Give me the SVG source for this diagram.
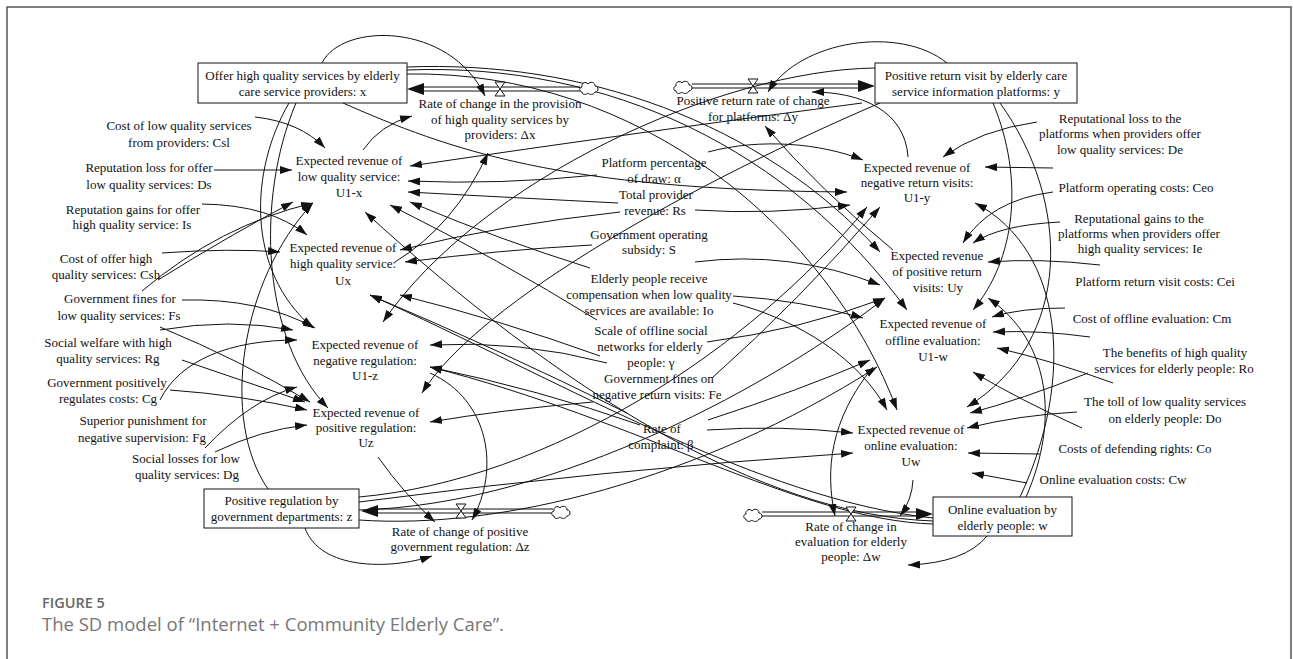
<svg xmlns="http://www.w3.org/2000/svg" width="1293" height="659" viewBox="0 0 1293 659">
<defs>
<marker id="a" viewBox="0 0 12 8" refX="12" refY="4" markerWidth="12" markerHeight="8" markerUnits="userSpaceOnUse" orient="auto"><path d="M0,0L12,4L0,8z" fill="#111"/></marker>
<path id="cloud" d="M-7,4 C-10,4 -10,-1 -7,-1 C-8,-5 -3,-7 -1,-4 C1,-7 6,-6 6,-2 C10,-2 10,4 6,4 C5,7 0,7 -1,5 C-3,7 -7,7 -7,4 Z"/>
<path id="valve" d="M-5,-7 H5 L-5,7 H5 Z"/>
</defs>
<style>
.t{font-family:"Liberation Serif","Times New Roman",serif;font-size:13px;fill:#111;text-anchor:middle}
.l{fill:none;stroke:#111;stroke-width:1;marker-end:url(#a)}
.box{fill:#fff;stroke:#111;stroke-width:1}
.p{fill:none;stroke:#111;stroke-width:1}
.cl{fill:#fff;stroke:#111;stroke-width:1}
.cap1{font-family:"Open Sans","Liberation Sans",sans-serif;font-size:14.5px;font-weight:600;fill:#666}
.cap2{font-family:"Open Sans","Liberation Sans",sans-serif;font-size:18.5px;fill:#777}
</style>
<rect width="1293" height="659" fill="#fff"/>
<path d="M7,659 V7 H1291 V659" fill="none" stroke="#555" stroke-width="1.5"/>

<g id="connectors">
<path class="l" d="M322,63 C342,22 450,22 485,96"/>
<path class="l" d="M289,103 C250,170 245,270 313,328"/>
<path class="l" d="M296,103 C255,200 262,340 328,408"/>
<path class="l" d="M343,103 C450,150 560,190 847,192"/>
<path class="l" d="M407,67 C580,60 760,120 880,252"/>
<path class="l" d="M407,70 C610,62 790,150 907,310"/>
<path class="l" d="M407,74 C640,70 830,230 897,410"/>
<path class="l" d="M947,63 C900,25 800,40 768,92"/>
<path class="l" d="M862,103 Q640,132 410,166"/>
<path class="l" d="M875,68 C720,70 480,180 383,322"/>
<path class="l" d="M880,103 C700,180 480,300 422,393"/>
<path class="l" d="M993,103 C1025,180 1015,260 973,310"/>
<path class="l" d="M1000,103 C1070,200 1075,340 967,407"/>
<path class="l" d="M305,528 C320,570 390,570 432,556"/>
<path class="l" d="M268,489 C220,420 240,280 313,203"/>
<path class="l" d="M359,502 Q600,470 853,453"/>
<path class="l" d="M359,520 C500,530 700,480 877,367"/>
<path class="l" d="M359,497 C550,480 750,350 867,207"/>
<path class="l" d="M359,510 C560,505 780,380 885,298"/>
<path class="l" d="M987,536 Q965,563 908,565"/>
<path class="l" d="M1020,497 C1075,380 1065,250 975,203"/>
<path class="l" d="M1026,497 C1060,420 1050,340 988,298"/>
<path class="l" d="M933,521 C760,515 560,390 365,212"/>
<path class="l" d="M933,524 C800,520 640,420 430,367"/>
<path class="l" d="M933,518 C760,500 560,380 370,295"/>
<path class="l" d="M363,150 Q380,125 412,116"/>
<path class="l" d="M395,262 Q455,225 488,153"/>
<path class="l" d="M908,157 C905,110 860,92 812,92"/>
<path class="l" d="M893,250 Q820,190 765,126"/>
<path class="l" d="M430,373 C490,400 500,470 472,520"/>
<path class="l" d="M378,457 Q405,495 435,522"/>
<path class="l" d="M873,367 C830,420 825,470 835,516"/>
<path class="l" d="M913,480 Q912,500 900,516"/>
<path class="l" d="M255,117 Q300,122 325,148"/>
<path class="l" d="M214,170 L292,170"/>
<path class="l" d="M202,204 Q270,205 307,235"/>
<path class="l" d="M162,253 Q230,248 280,252"/>
<path class="l" d="M158,280 Q230,235 293,202"/>
<path class="l" d="M142,291 Q220,225 313,203"/>
<path class="l" d="M182,300 Q260,298 315,328"/>
<path class="l" d="M160,327 Q240,360 310,402"/>
<path class="l" d="M160,330 Q230,318 293,330"/>
<path class="l" d="M182,360 L305,402"/>
<path class="l" d="M160,400 C180,360 230,340 297,340"/>
<path class="l" d="M170,390 Q240,395 307,410"/>
<path class="l" d="M205,448 Q250,400 297,387"/>
<path class="l" d="M215,452 Q260,430 307,425"/>
<path class="l" d="M597,175 Q500,185 408,181"/>
<path class="l" d="M618,203 Q520,198 408,192"/>
<path class="l" d="M620,212 Q500,225 400,250"/>
<path class="l" d="M708,152 C760,138 820,143 863,160"/>
<path class="l" d="M695,210 Q770,215 850,205"/>
<path class="l" d="M592,245 Q500,250 405,262"/>
<path class="l" d="M695,262 Q790,250 880,285"/>
<path class="l" d="M590,268 Q500,240 410,202"/>
<path class="l" d="M733,296 Q800,300 863,318"/>
<path class="l" d="M733,303 C800,320 860,360 887,410"/>
<path class="l" d="M597,320 Q500,260 390,205"/>
<path class="l" d="M707,342 Q800,330 885,298"/>
<path class="l" d="M607,363 Q520,340 430,345"/>
<path class="l" d="M600,356 Q500,320 400,295"/>
<path class="l" d="M593,402 Q500,410 430,422"/>
<path class="l" d="M712,378 Q800,300 880,207"/>
<path class="l" d="M708,420 Q800,390 870,360"/>
<path class="l" d="M707,430 Q780,425 853,433"/>
<path class="l" d="M640,425 Q540,390 430,367"/>
<path class="l" d="M627,413 Q500,350 370,295"/>
<path class="l" d="M1037,122 Q980,130 943,157"/>
<path class="l" d="M1053,168 L985,167"/>
<path class="l" d="M1053,192 Q990,200 963,243"/>
<path class="l" d="M1060,222 Q1000,225 973,243"/>
<path class="l" d="M1100,265 Q1040,258 988,262"/>
<path class="l" d="M1065,308 Q1020,308 992,317"/>
<path class="l" d="M1090,337 Q1040,330 993,332"/>
<path class="l" d="M1113,383 Q1050,360 997,348"/>
<path class="l" d="M1082,428 Q1020,400 973,372"/>
<path class="l" d="M1088,373 Q1020,400 970,413"/>
<path class="l" d="M1077,412 Q1020,415 967,428"/>
<path class="l" d="M1040,454 L968,453"/>
<path class="l" d="M1027,483 Q1000,478 972,473"/>
</g>

<g id="flow-x">
<path class="p" d="M580,87 H423 M580,91 H423"/>
<path d="M407,89 L424,83 L424,95 Z" fill="#111"/>
<use href="#valve" x="500" y="89" class="cl"/>
<use href="#cloud" x="589" y="88" class="cl"/>
</g>
<g id="flow-y">
<path class="p" d="M692,84 H858 M692,88 H858"/>
<path d="M875,86 L858,80 L858,92 Z" fill="#111"/>
<use href="#valve" x="753" y="86" class="cl"/>
<use href="#cloud" x="683" y="87" class="cl"/>
</g>
<g id="flow-z">
<path class="p" d="M553,509 H378 M553,513 H378"/>
<path d="M361,511 L378,505 L378,517 Z" fill="#111"/>
<use href="#valve" x="461" y="511" class="cl"/>
<use href="#cloud" x="561" y="512" class="cl"/>
</g>
<g id="flow-w">
<path class="p" d="M762,512 H917 M762,516 H917"/>
<path d="M933,514 L916,508 L916,520 Z" fill="#111"/>
<use href="#valve" x="851" y="514" class="cl"/>
<use href="#cloud" x="753" y="515" class="cl"/>
</g>

<g id="stock-x"><rect class="box" x="198" y="63" width="209" height="40"/><text class="t" x="302.5" y="80">Offer high quality services by elderly</text><text class="t" x="302.5" y="96">care service providers: x</text></g>
<g id="stock-y"><rect class="box" x="875" y="63" width="202" height="40"/><text class="t" x="976" y="80">Positive return visit by elderly care</text><text class="t" x="976" y="96">service information platforms: y</text></g>
<g id="stock-z"><rect class="box" x="204" y="489" width="155" height="39"/><text class="t" x="281.5" y="505">Positive regulation by</text><text class="t" x="281.5" y="521">government departments: z</text></g>
<g id="stock-w"><rect class="box" x="933" y="497" width="139" height="39"/><text class="t" x="1002.5" y="514">Online evaluation by</text><text class="t" x="1002.5" y="530">elderly people: w</text></g>

<g id="rate-x"><text class="t" x="500" y="108">Rate of change in the provision</text><text class="t" x="500" y="124">of high quality services by</text><text class="t" x="500" y="139">providers: Δx</text></g>
<g id="rate-y"><text class="t" x="753" y="105">Positive return rate of change</text><text class="t" x="753" y="121">for platforms: Δy</text></g>
<g id="rate-z"><text class="t" x="460" y="536">Rate of change of positive</text><text class="t" x="460" y="551">government regulation: Δz</text></g>
<g id="rate-w"><text class="t" x="851" y="531">Rate of change in</text><text class="t" x="851" y="546">evaluation for elderly</text><text class="t" x="851" y="561">people: Δw</text></g>

<g id="U1x"><text class="t" x="349" y="165">Expected revenue of</text><text class="t" x="349" y="181">low quality service:</text><text class="t" x="349" y="197">U1-x</text></g>
<g id="Ux"><text class="t" x="343" y="252">Expected revenue of</text><text class="t" x="343" y="268">high quality service:</text><text class="t" x="343" y="285">Ux</text></g>
<g id="U1z"><text class="t" x="365" y="349">Expected revenue of</text><text class="t" x="365" y="365">negative regulation:</text><text class="t" x="365" y="380">U1-z</text></g>
<g id="Uz"><text class="t" x="366" y="417">Expected revenue of</text><text class="t" x="366" y="432">positive regulation:</text><text class="t" x="366" y="447">Uz</text></g>
<g id="U1y"><text class="t" x="917" y="172">Expected revenue of</text><text class="t" x="917" y="187">negative return visits:</text><text class="t" x="917" y="202">U1-y</text></g>
<g id="Uy"><text class="t" x="937" y="260">Expected revenue</text><text class="t" x="937" y="276">of positive return</text><text class="t" x="938" y="292">visits: Uy</text></g>
<g id="U1w"><text class="t" x="933" y="328">Expected revenue of</text><text class="t" x="933" y="345">offline evaluation:</text><text class="t" x="933" y="361">U1-w</text></g>
<g id="Uw"><text class="t" x="911" y="434">Expected revenue of</text><text class="t" x="911" y="450">online evaluation:</text><text class="t" x="911" y="466">Uw</text></g>

<g id="Csl"><text class="t" x="179" y="130">Cost of low quality services</text><text class="t" x="179" y="147">from providers: Csl</text></g>
<g id="Ds"><text class="t" x="149" y="172">Reputation loss for offer</text><text class="t" x="149" y="189">low quality services: Ds</text></g>
<g id="Is"><text class="t" x="133" y="214">Reputation gains for offer</text><text class="t" x="132" y="229">high quality service: Is</text></g>
<g id="Csh"><text class="t" x="106" y="263">Cost of offer high</text><text class="t" x="106" y="279">quality services: Csh</text></g>
<g id="Fs"><text class="t" x="120" y="303">Government fines for</text><text class="t" x="119" y="320">low quality services: Fs</text></g>
<g id="Rg"><text class="t" x="108" y="347">Social welfare with high</text><text class="t" x="108" y="363">quality services: Rg</text></g>
<g id="Cg"><text class="t" x="107" y="387">Government positively</text><text class="t" x="108" y="403">regulates costs: Cg</text></g>
<g id="Fg"><text class="t" x="143" y="425">Superior punishment for</text><text class="t" x="142" y="442">negative supervision: Fg</text></g>
<g id="Dg"><text class="t" x="186" y="463">Social losses for low</text><text class="t" x="187" y="479">quality services: Dg</text></g>

<g id="alpha"><text class="t" x="654" y="167">Platform percentage</text><text class="t" x="654" y="183">of draw: α</text></g>
<g id="Rs"><text class="t" x="656" y="199">Total provider</text><text class="t" x="655" y="215">revenue: Rs</text></g>
<g id="S"><text class="t" x="649" y="239">Government operating</text><text class="t" x="649" y="254">subsidy: S</text></g>
<g id="Io"><text class="t" x="649" y="283">Elderly people receive</text><text class="t" x="649" y="299">compensation when low quality</text><text class="t" x="649" y="315">services are available: Io</text></g>
<g id="gamma"><text class="t" x="651" y="335">Scale of offline social</text><text class="t" x="650" y="351">networks for elderly</text><text class="t" x="651" y="367">people: γ</text></g>
<g id="Fe"><text class="t" x="659" y="383">Government fines on</text><text class="t" x="657" y="399">negative return visits: Fe</text></g>
<g id="beta"><text class="t" x="662" y="433">Rate of</text><text class="t" x="661" y="449">complaint: β</text></g>

<g id="De"><text class="t" x="1120" y="123">Reputational loss to the</text><text class="t" x="1120" y="138">platforms when providers offer</text><text class="t" x="1120" y="154">low quality services: De</text></g>
<g id="Ceo"><text class="t" x="1136" y="192">Platform operating costs: Ceo</text></g>
<g id="Ie"><text class="t" x="1139" y="223">Reputational gains to the</text><text class="t" x="1139" y="238">platforms when providers offer</text><text class="t" x="1140" y="253">high quality services: Ie</text></g>
<g id="Cei"><text class="t" x="1155" y="286">Platform return visit costs: Cei</text></g>
<g id="Cm"><text class="t" x="1152" y="323">Cost of offline evaluation: Cm</text></g>
<g id="Ro"><text class="t" x="1175" y="357">The benefits of high quality</text><text class="t" x="1174" y="373">services for elderly people: Ro</text></g>
<g id="Do"><text class="t" x="1165" y="406">The toll of low quality services</text><text class="t" x="1165" y="423">on elderly people: Do</text></g>
<g id="Co"><text class="t" x="1135" y="453">Costs of defending rights: Co</text></g>
<g id="Cw"><text class="t" x="1113" y="484">Online evaluation costs: Cw</text></g>

<text class="cap1" x="42" y="608">FIGURE 5</text>
<text class="cap2" x="42" y="631">The SD model of “Internet + Community Elderly Care”.</text>
</svg>
